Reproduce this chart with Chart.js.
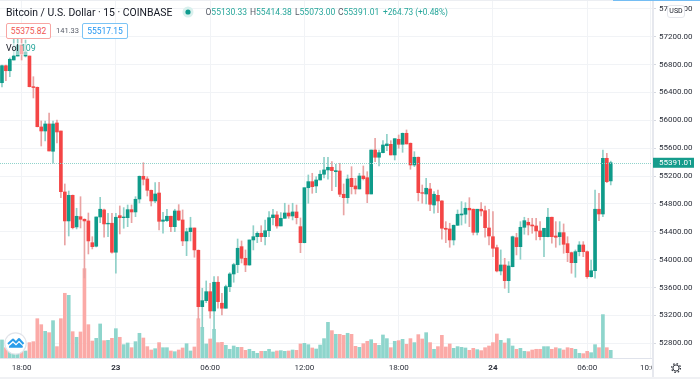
<!DOCTYPE html>
<html>
<head>
<meta charset="utf-8">
<title>Bitcoin / U.S. Dollar</title>
<script src="https://cdn.jsdelivr.net/npm/chart.js@4/dist/chart.umd.js"></script>
<style>
  html, body { margin: 0; padding: 0; background: #fff; }
  #wrap { position: relative; width: 700px; height: 379px; overflow: hidden; font-family: Roboto, sans-serif; }
  #wrap div, #wrap span { white-space: nowrap; }
  .abs { position: absolute; }
  .teal { color: #26a69a; }
  .grey { color: #555a66; }
  .ohlc { top: 6px; font-size: 8.5px; line-height: 13px; }
  .pill { position: absolute; top: 23px; height: 14px; line-height: 14px; text-align: center; background: #fff; border-radius: 2px; font-size: 8.5px; }
</style>
</head>
<body>
<div id="wrap">
  <canvas id="myChart" width="700" height="379"></canvas>

  <div class="abs" style="left:0;top:0;width:613px;height:1px;background:#eceef2"></div>
  <div class="abs" style="left:613px;top:0;width:87px;height:1px;background:#74bdf3"></div>
  <div class="abs" style="left:0;top:377px;width:700px;height:2px;background:#f0f1f4"></div>

  <div class="abs" style="left:6px;top:6px;font-size:10.4px;line-height:13px;color:#131722">Bitcoin / U.S. Dollar · 15 · COINBASE</div>
  <svg class="abs" style="left:182px;top:6px" width="12" height="12"><circle cx="6" cy="6" r="5.5" fill="#d9f0ed"/><circle cx="6" cy="6" r="2.6" fill="#0f9b8e"/></svg>
  <div class="abs grey ohlc" style="left:205.5px">O<span class="teal">55130.33</span></div>
  <div class="abs grey ohlc" style="left:250px">H<span class="teal">55414.38</span></div>
  <div class="abs grey ohlc" style="left:295px">L<span class="teal">55073.00</span></div>
  <div class="abs grey ohlc" style="left:338px">C<span class="teal">55391.01</span></div>
  <div class="abs teal ohlc" style="left:383px;font-size:8.3px">+264.73 (+0.48%)</div>

  <div class="pill" style="left:6px;width:43px;border:1px solid #f7a6a3;color:#ef5350">55375.82</div>
  <div class="abs grey" style="left:56px;top:24px;font-size:7.5px;line-height:14px">141.33</div>
  <div class="pill" style="left:82px;width:44px;border:1px solid #7cc4f5;color:#2196f3">55517.15</div>

  <div class="abs" style="left:5px;top:43px;width:32px;height:12px;background:rgba(255,255,255,.55)"></div>
  <div class="abs" style="left:6px;top:42px;font-size:8.9px;line-height:13px;color:#131722">Vol <span class="teal">109</span></div>

  <div class="abs" style="left:667px;top:5px;width:16px;height:11px;line-height:11px;text-align:center;background:#fff;border:1px solid #e4e6ec;border-radius:3px;font-size:7px;color:#131722">USD</div>

  <svg class="abs" style="left:4px;top:332px" width="23" height="23">
    <circle cx="11.5" cy="11.5" r="10.7" fill="#fff" stroke="#e2e4ea" stroke-width="1.2"/>
    <path d="M4 12 L9 7.5 L12 10.5 L15 7 L19.5 12" fill="none" stroke="#2a9dea" stroke-width="2" stroke-linejoin="round"/>
    <path d="M5 15.8 Q4.5 13.5 6.5 13 L9 10.8 L12 13.5 L15 10.5 L18 13.2 Q19.5 14 18.5 15.8 Z" fill="#2a9dea"/>
  </svg>

  <svg class="abs" style="left:670px;top:362px" width="12" height="12">
    <circle cx="6" cy="6" r="3.1" fill="none" stroke="#30343d" stroke-width="1"/>
    <circle cx="6" cy="6" r="4.4" fill="none" stroke="#30343d" stroke-width="1.3" stroke-dasharray="1.5 1.96"/>
  </svg>
</div>

<script>
const opens = [
  56540, 56784, 56712, 56866, 56923, 57081, 56923, 56923, 56483, 56474,
  55905, 55847, 55948, 55556, 55962, 55847, 54972, 54556, 54924, 54470,
  54617, 54580, 54556, 54244, 54193, 54613, 54714, 54513, 54523, 54107,
  54632, 54603, 54603, 54718, 54685, 54871, 55197, 55158, 54996, 54843,
  54957, 54551, 54560, 54623, 54474, 54699, 54570, 54269, 54402, 54455,
  54135, 53326, 53412, 53541, 53264, 53676, 53375, 53303, 53613, 53795,
  53929, 54187, 54020, 53924, 54283, 54330, 54379, 54330, 54416, 54603,
  54642, 54484, 54594, 54670, 54627, 54685, 54474, 54244, 55033, 55120,
  55058, 55144, 55226, 55288, 55326, 55263, 55273, 54939, 54890, 55168,
  55058, 55015, 55201, 55177, 54943, 55574, 55470, 55536, 55636, 55656,
  55503, 55728, 55656, 55814, 55671, 55359, 55470, 54962, 54943, 55015,
  54785, 54924, 54843, 54451, 54441, 54283, 54494, 54642, 54652, 54738,
  54724, 54393, 54724, 54703, 54455, 54330, 54173, 53838, 53924, 53699,
  53900, 54316, 54187, 54465, 54537, 54498, 54484, 54412, 54330, 54330,
  54609, 54340, 54330, 54388, 54230, 54101, 53957, 54115, 54211, 54115,
  53756, 53842, 54724, 54656, 55455, 55130.33,
];
const highs = [
  56794, 56794, 56895, 57196, 57196, 57196, 57153, 56923, 56626, 56479,
  55991, 55991, 56105, 55991, 56005, 55847, 55087, 54986, 54929, 54738,
  54904, 54586, 54670, 54330, 54613, 54896, 54728, 54666, 54666, 54666,
  54771, 54747, 54785, 54785, 54904, 55201, 55392, 55191, 55000, 55105,
  55111, 54680, 54724, 54627, 54724, 54790, 54714, 54451, 54609, 54455,
  54140, 53590, 53695, 53662, 53756, 53756, 53518, 53637, 53814, 53949,
  54297, 54269, 54140, 54283, 54488, 54402, 54488, 54570, 54689, 54724,
  54689, 54675, 54810, 54785, 54810, 54785, 54599, 55033, 55216, 55240,
  55191, 55278, 55470, 55470, 55407, 55369, 55384, 55087, 55216, 55335,
  55168, 55240, 55345, 55263, 55574, 55742, 55574, 55708, 55800, 55708,
  55737, 55790, 55818, 55862, 55675, 55550, 55474, 55072, 55168, 55097,
  54976, 55000, 54848, 54546, 54523, 54498, 54714, 54833, 54818, 54890,
  54728, 54724, 54818, 54771, 54724, 54689, 54211, 54140, 54020, 53972,
  54340, 54379, 54546, 54609, 54594, 54594, 54594, 54546, 54451, 54738,
  54613, 54546, 54546, 54513, 54330, 54110, 54140, 54259, 54259, 54125,
  53996, 55000, 54953, 55574, 55527, 55414.38,
];
const lows = [
  56479, 56569, 56626, 56866, 56923, 56866, 56909, 56479, 56321, 55905,
  55632, 55704, 55560, 55384, 55675, 54890, 54211, 54340, 54441, 54441,
  54455, 53738, 54082, 54154, 54183, 54531, 54322, 54330, 54092, 53805,
  54369, 54451, 54474, 54531, 54617, 54814, 55072, 54914, 54771, 54818,
  54427, 54379, 54546, 54402, 54402, 54560, 54201, 54058, 54269, 54035,
  53149, 53020, 53383, 53159, 52992, 53303, 53207, 53303, 53541, 53676,
  53814, 53953, 53828, 53919, 54140, 54244, 54259, 54211, 54330, 54498,
  54451, 54484, 54594, 54594, 54570, 54513, 54101, 54240, 54810, 54953,
  54962, 55144, 55173, 55154, 54990, 55048, 54904, 54642, 54810, 54943,
  54943, 55015, 55144, 54818, 54943, 55407, 55345, 55531, 55564, 55503,
  55431, 55599, 55541, 55661, 55298, 55335, 54843, 54810, 54800, 54703,
  54666, 54675, 54293, 54244, 54178, 54211, 54490, 54498, 54523, 54474,
  54355, 54355, 54627, 54322, 54211, 54043, 53824, 53781, 53590, 53527,
  53896, 54068, 54006, 54365, 54355, 54379, 54283, 54283, 54043, 54326,
  54236, 54178, 54211, 54092, 53972, 53805, 53748, 54054, 54043, 53733,
  53748, 53733, 54560, 54617, 55105, 55073,
];
const closes = [
  56784, 56712, 56876, 56923, 57081, 56952, 56981, 56483, 56471, 55909,
  55847, 55948, 55560, 55948, 55833, 54976, 54556, 54924, 54459, 54623,
  54580, 54556, 54269, 54187, 54613, 54724, 54513, 54523, 54107, 54609,
  54603, 54613, 54718, 54685, 54867, 55197, 55154, 54996, 54843, 54943,
  54551, 54570, 54623, 54474, 54699, 54570, 54269, 54402, 54455, 54140,
  53326, 53412, 53541, 53264, 53676, 53398, 53303, 53613, 53795, 53929,
  54164, 54020, 53924, 54283, 54330, 54379, 54330, 54416, 54603, 54642,
  54484, 54594, 54670, 54627, 54685, 54603, 54244, 55033, 55120, 55048,
  55144, 55226, 55288, 55326, 55278, 55278, 54939, 54890, 55158, 55048,
  55015, 55201, 55163, 54943, 55574, 55470, 55536, 55646, 55661, 55503,
  55737, 55656, 55814, 55661, 55359, 55470, 54962, 54953, 55025, 54795,
  54939, 54843, 54451, 54436, 54283, 54494, 54652, 54656, 54738, 54714,
  54393, 54724, 54699, 54459, 54340, 54164, 53838, 53924, 53699, 53910,
  54330, 54187, 54465, 54560, 54498, 54484, 54412, 54330, 54451, 54609,
  54330, 54322, 54388, 54221, 54101, 53957, 54115, 54211, 54115, 53756,
  53842, 54724, 54656, 55455, 55120, 55391.01,
];
const volumes = [
  257, 147, 90, 76, 76, 124, 100, 219, 233, 560,
  475, 380, 361, 532, 162, 560, 922, 893, 375, 295,
  371, 1273, 475, 242, 280, 485, 247, 252, 280, 418,
  295, 190, 214, 147, 233, 352, 285, 162, 114, 133,
  219, 147, 147, 100, 90, 114, 143, 204, 100, 157,
  560, 437, 200, 271, 409, 219, 223, 181, 124, 171,
  152, 152, 109, 124, 95, 67, 95, 95, 124, 86,
  100, 105, 95, 100, 114, 109, 200, 209, 190, 143,
  128, 185, 276, 508, 390, 337, 337, 323, 352, 337,
  166, 152, 204, 238, 261, 209, 181, 328, 276, 147,
  238, 247, 266, 195, 276, 219, 333, 271, 361, 219,
  124, 162, 323, 157, 200, 138, 162, 152, 143, 109,
  138, 119, 105, 147, 171, 219, 342, 252, 214, 276,
  171, 124, 138, 95, 90, 114, 124, 124, 162, 162,
  124, 147, 133, 114, 147, 138, 124, 67, 62, 95,
  76, 190, 147, 618, 147, 109,
];

const priceTicks = [52800, 53200, 53600, 54000, 54400, 54800, 55200, 55600, 56000, 56400, 56800, 57200, 57600];
const timeTickSlots = [5, 29, 53, 77, 101, 125, 149, 165];
const timeTickLabels = ["18:00", "23", "06:00", "12:00", "18:00", "24", "06:00", "10:00"];
const lastPrice = closes[closes.length - 1];

// 15 minute slots, the empty ones on the right leave room up to the price axis
const slots = [];
for (let i = 0; i < 166; i++) slots.push(i);

const UP = "#0f9b8a", DOWN = "#f44545";
const UP_WICK = "#8fd0c8", DOWN_WICK = "#e9a3a3";
const UP_VOL = "#8ed5cc", DOWN_VOL = "#fbaaa7";
const isUp = closes.map((c, i) => c >= opens[i]);

const drawExtras = {
  id: "drawExtras",
  afterDatasetsDraw(chart) {
    const { ctx, chartArea, scales } = chart;
    const y = Math.round(scales.y.getPixelForValue(lastPrice)) + 0.5;
    ctx.save();
    ctx.strokeStyle = "#8fd3cb";
    ctx.setLineDash([1, 1]);
    ctx.beginPath();
    ctx.moveTo(chartArea.left, y);
    ctx.lineTo(chartArea.right, y);
    ctx.stroke();
    ctx.restore();
  },
  afterDraw(chart) {
    const { ctx, chartArea, scales } = chart;
    ctx.save();
    // price axis corner hides the clipped time label
    ctx.fillStyle = "#fff";
    ctx.fillRect(chartArea.right, chartArea.bottom + 1, 48, 18);
    ctx.fillStyle = "#e6e8ee";
    ctx.fillRect(chartArea.right, 0, 2, 377);
    // last price label
    const y = scales.y.getPixelForValue(lastPrice);
    ctx.fillStyle = "#159c8c";
    ctx.fillRect(chartArea.right + 1, y - 5, 41, 10);
    ctx.fillStyle = "#fff";
    ctx.font = "8px Roboto";
    ctx.textBaseline = "middle";
    ctx.fillText(lastPrice.toFixed(2), chartArea.right + 7, y + 0.5);
    ctx.restore();
  },
};

new Chart(document.getElementById("myChart"), {
  type: "bar",
  data: {
    labels: slots,
    datasets: [
      {
        label: "Vol",
        yAxisID: "vol",
        data: volumes,
        backgroundColor: isUp.map((u) => (u ? UP_VOL : DOWN_VOL)),
        barThickness: 3,
        grouped: false,
        order: 3,
      },
      {
        label: "Wick",
        data: highs.map((h, i) => [lows[i], h]),
        backgroundColor: isUp.map((u) => (u ? UP_WICK : DOWN_WICK)),
        barThickness: 1,
        grouped: false,
        order: 2,
      },
      {
        label: "Body",
        data: opens.map((o, i) => [o, closes[i]]),
        backgroundColor: isUp.map((u) => (u ? UP : DOWN)),
        barThickness: 3,
        grouped: false,
        order: 1,
      },
    ],
  },
  options: {
    responsive: false,
    animation: false,
    events: [],
    layout: { padding: 0 },
    plugins: { legend: { display: false }, tooltip: { enabled: false } },
    scales: {
      x: {
        offset: true,
        afterBuildTicks: (axis) => {
          axis.ticks = timeTickSlots.map((s) => ({ value: s }));
        },
        afterFit: (axis) => {
          axis.height = 21;
          axis.paddingLeft = 0;
          axis.paddingRight = 0;
        },
        grid: { color: "#f1f3f6", drawTicks: false, offset: false },
        border: { color: "#e0e3eb" },
        ticks: {
          autoSkip: false,
          maxRotation: 0,
          padding: 5,
          color: "#2a2e39",
          font: (c) => ({
            family: "Roboto",
            size: 8,
            weight: /^\d\d$/.test(timeTickLabels[c.index]) ? "bold" : "normal",
          }),
          callback: (v, i) => timeTickLabels[i],
        },
      },
      y: {
        position: "right",
        min: 52589,
        max: 57727,
        afterBuildTicks: (axis) => {
          axis.ticks = priceTicks.map((v) => ({ value: v }));
        },
        afterFit: (axis) => {
          axis.width = 48;
          axis.paddingTop = 0;
          axis.paddingBottom = 0;
        },
        grid: { color: "#f1f3f6", tickColor: "#d5d8e0", tickLength: 4 },
        border: { color: "#e0e3eb" },
        ticks: {
          padding: 3,
          color: "#2a2e39",
          font: { family: "Roboto", size: 8 },
          callback: (v) => v.toFixed(2),
        },
      },
      vol: {
        display: false,
        min: 0,
        max: 5100,
      },
    },
  },
  plugins: [drawExtras],
});
</script>
</body>
</html>
